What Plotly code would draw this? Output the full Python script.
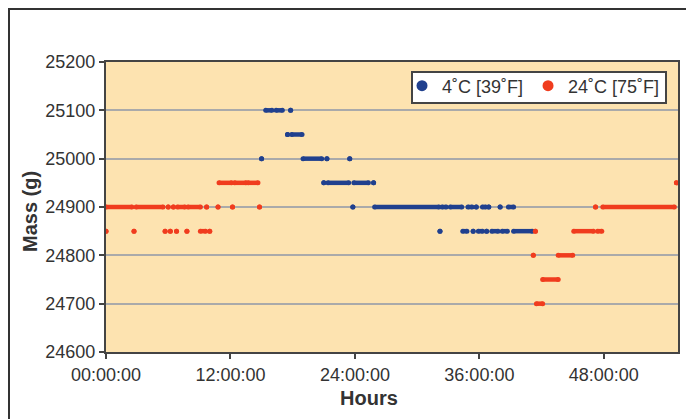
import plotly.graph_objects as go

# ---- data (hours, mass in g); each run = consecutive readings at the same mass ----
tick_hours = [0, 12, 24, 36, 48]
tick_labels = ["00:00:00", "12:00:00", "24:00:00", "36:00:00", "48:00:00"]

cold_name = "4˚C [39˚F]"
cold_start = [15.4, 16.4, 17.8,
              17.5, 17.9,
              15.0, 19.0, 21.3, 23.5,
              21.0, 21.4, 23.9, 25.8,
              23.8, 25.9, 32.4, 33.2, 34.9, 35.7, 36.3, 36.9, 38.0, 38.8,
              32.2, 34.4, 35.4, 35.9, 36.7, 37.2, 38.2, 39.3]
cold_end = [16.0, 17.0, 17.8,
            17.5, 18.9,
            15.0, 20.8, 21.3, 23.5,
            21.0, 23.4, 25.3, 25.8,
            23.8, 32.1, 32.8, 34.3, 35.3, 35.7, 36.6, 36.9, 38.0, 39.3,
            32.2, 34.8, 35.4, 36.3, 36.7, 37.8, 38.7, 41.1]
cold_mass = [25100, 25100, 25100,
             25050, 25050,
             25000, 25000, 25000, 25000,
             24950, 24950, 24950, 24950,
             24900, 24900, 24900, 24900, 24900, 24900, 24900, 24900, 24900, 24900,
             24850, 24850, 24850, 24850, 24850, 24850, 24850, 24850]

warm_name = "24˚C [75˚F]"
warm_start = [10.9, 12.4, 13.7, 55.0,
              0.0, 2.9, 6.0, 6.5, 6.9, 7.9, 9.7, 10.8, 12.2, 14.8, 47.2, 47.9,
              0.0, 2.7, 5.7, 6.2, 6.8, 7.8, 9.1, 10.0, 41.4, 45.1, 47.4,
              41.2, 43.6,
              42.1,
              41.5]
warm_end = [12.1, 13.5, 14.65, 55.0,
            2.5, 5.5, 6.0, 6.5, 7.6, 9.1, 9.7, 10.8, 12.2, 14.8, 47.2, 54.8,
            0.0, 2.7, 5.7, 6.2, 6.8, 7.8, 9.6, 10.0, 41.4, 47.0, 47.8,
            41.2, 45.0,
            43.6,
            42.1]
warm_mass = [24950, 24950, 24950, 24950,
             24900, 24900, 24900, 24900, 24900, 24900, 24900, 24900, 24900, 24900, 24900, 24900,
             24850, 24850, 24850, 24850, 24850, 24850, 24850, 24850, 24850, 24850, 24850,
             24800, 24800,
             24750,
             24700]

BLUE = "#20408e"
RED = "#f03c1e"


def runs_xy(starts, ends, masses):
    xs, ys = [], []
    for s, e, m in zip(starts, ends, masses):
        xs += [s, e, None]
        ys += [m, m, None]
    return xs, ys


fig = go.Figure()
for name, st, en, ms, col in [(cold_name, cold_start, cold_end, cold_mass, BLUE),
                              (warm_name, warm_start, warm_end, warm_mass, RED)]:
    xs, ys = runs_xy(st, en, ms)
    fig.add_trace(go.Scatter(x=xs, y=ys, mode="lines+markers", showlegend=False,
                             line=dict(color=col, width=4.5),
                             marker=dict(color=col, size=5), hoverinfo="skip"))
    fig.add_trace(go.Scatter(x=[None], y=[None], mode="markers", name=name,
                             marker=dict(color=col, size=11)))

# page body has an 8px margin: figure pixel = screen pixel - 8
OFF = 8
SW, SH = 694, 419                      # screen size
PL, PR, PT, PB = 106, 678, 62, 352     # plot area in screen pixels
W, H = SW - OFF, SH - OFF
L, T = PL - OFF, PT - OFF
R, B = W - (PR - OFF), H - (PB - OFF)
pw, ph = PR - PL, PB - PT


def px(x):
    return (x - PL) / pw


def py(y):
    return (PB - y) / ph


fig.update_layout(
    width=W, height=H,
    margin=dict(l=L, r=R, t=T, b=B),
    paper_bgcolor="white",
    plot_bgcolor="#fde3b0",
    font=dict(family="Liberation Sans, Arial, sans-serif", size=18, color="#333333"),
    showlegend=True,
    legend=dict(orientation="h", x=px(402), xanchor="left",
                y=py(67.5), yanchor="top",
                bgcolor="rgba(0,0,0,0)", borderwidth=0,
                font=dict(size=18, color="#333333"),
                itemwidth=30, tracegroupgap=0),
    xaxis=dict(range=[0, 55.15], tickvals=tick_hours, ticktext=tick_labels,
               showgrid=False, zeroline=False, showline=True, linecolor="#444444",
               linewidth=2, mirror=True, ticks="outside", ticklen=5,
               tickcolor="#444444", tickwidth=2),
    yaxis=dict(range=[24600, 25200], dtick=100, tickformat="d",
               showgrid=True, gridcolor="#aaaaaa", gridwidth=2, zeroline=False,
               showline=True, linecolor="#444444", linewidth=2, mirror=True,
               ticks="outside", ticklen=5, tickcolor="#444444", tickwidth=2),
    annotations=[
        dict(text="<b>Hours</b>", xref="paper", yref="paper",
             x=px(369), y=py(398), xanchor="center", yanchor="middle",
             showarrow=False, font=dict(size=20, color="#333333")),
        dict(text="<b>Mass (g)</b>", xref="paper", yref="paper", textangle=-90,
             x=px(30), y=py(212), xanchor="center", yanchor="middle",
             showarrow=False, font=dict(size=20, color="#333333")),
    ],
    shapes=[
        dict(type="rect", xref="paper", yref="paper",
             x0=px(9), x1=px(SW + 20),
             y0=py(SH + 20), y1=py(9),
             line=dict(color="#333333", width=2), fillcolor="rgba(0,0,0,0)", layer="below"),
        # legend box
        dict(type="rect", xref="paper", yref="paper",
             x0=px(412), x1=px(666), y0=py(103), y1=py(72),
             line=dict(color="#444444", width=2), fillcolor="white", layer="above"),
    ],
)

fig.write_html("out.html")
